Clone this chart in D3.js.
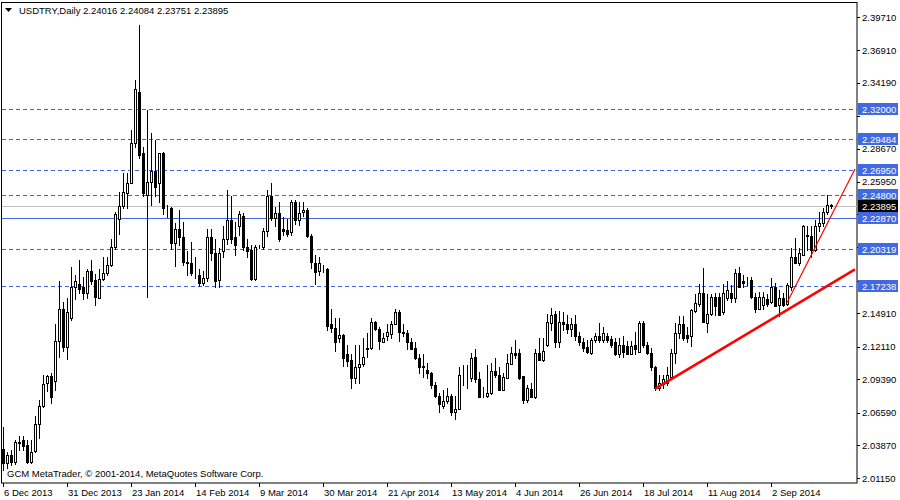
<!DOCTYPE html>
<html>
<head>
<meta charset="utf-8">
<script src="https://cdn.jsdelivr.net/npm/d3@7"></script>
<style>
  body { margin: 0; background: #fff; }
  svg text { font-family: "Liberation Sans", Arial, sans-serif; font-size: 9.5px; }
</style>
</head>
<body>
<div id="chart"></div>
<script>
// daily USDTRY bars, 2 Dec 2013 .. 24 Sep 2014
const opens = [2.036,2.024,2.031,2.025,2.042,2.043,2.039,2.025,2.034,2.057,2.072,2.091,2.097,2.093,2.126,2.153,2.121,2.145,2.171,2.174,
  2.171,2.166,2.185,2.177,2.162,2.178,2.183,2.190,2.205,2.228,2.239,2.250,2.258,2.292,2.334,2.283,2.248,2.259,2.268,2.258,
  2.283,2.237,2.237,2.208,2.220,2.213,2.192,2.191,2.183,2.181,2.175,2.179,2.213,2.200,2.177,2.201,2.211,2.227,2.213,2.222,
  2.231,2.205,2.202,2.178,2.205,2.205,2.218,2.247,2.229,2.233,2.220,2.219,2.217,2.242,2.227,2.234,2.236,2.214,2.191,2.185,
  2.186,2.186,2.140,2.137,2.129,2.131,2.115,2.110,2.095,2.104,2.107,2.119,2.120,2.142,2.136,2.125,2.130,2.132,2.140,2.150,
  2.134,2.133,2.125,2.120,2.112,2.105,2.102,2.099,2.089,2.080,2.072,2.076,2.080,2.067,2.069,2.098,2.096,2.095,2.113,2.094,
  2.081,2.080,2.083,2.101,2.098,2.085,2.095,2.107,2.116,2.116,2.097,2.077,2.086,2.079,2.116,2.110,2.123,2.141,2.149,2.125,
  2.142,2.140,2.136,2.140,2.130,2.125,2.121,2.116,2.127,2.130,2.127,2.130,2.128,2.125,2.115,2.123,2.122,2.115,2.123,2.117,
  2.141,2.123,2.116,2.104,2.087,2.090,2.091,2.096,2.116,2.133,2.140,2.131,2.130,2.151,2.157,2.166,2.141,2.149,2.163,2.163,
  2.150,2.162,2.166,2.162,2.183,2.176,2.176,2.177,2.163,2.153,2.156,2.161,2.159,2.171,2.156,2.162,2.157,2.171,2.196,2.191,
  2.198,2.215,2.214,2.202,2.222,2.225,2.234,2.24016];
const highs = [2.054,2.033,2.035,2.043,2.047,2.047,2.043,2.043,2.063,2.077,2.098,2.098,2.099,2.140,2.176,2.159,2.162,2.188,2.181,2.194,
  2.180,2.186,2.194,2.182,2.186,2.196,2.196,2.211,2.234,2.251,2.267,2.267,2.303,2.344,2.390,2.288,2.319,2.300,2.294,2.283,
  2.284,2.240,2.238,2.225,2.236,2.226,2.201,2.209,2.196,2.186,2.185,2.220,2.220,2.211,2.204,2.222,2.252,2.247,2.226,2.235,
  2.233,2.211,2.206,2.206,2.206,2.221,2.252,2.258,2.238,2.242,2.230,2.228,2.244,2.244,2.242,2.242,2.237,2.216,2.198,2.196,
  2.190,2.187,2.153,2.145,2.145,2.132,2.123,2.115,2.123,2.123,2.129,2.133,2.145,2.143,2.138,2.133,2.140,2.143,2.153,2.152,
  2.140,2.135,2.129,2.125,2.115,2.115,2.108,2.100,2.092,2.083,2.085,2.087,2.082,2.080,2.104,2.106,2.106,2.116,2.119,2.100,
  2.088,2.106,2.108,2.112,2.104,2.099,2.115,2.121,2.127,2.119,2.097,2.089,2.091,2.119,2.129,2.129,2.149,2.154,2.151,2.151,
  2.150,2.148,2.145,2.148,2.134,2.129,2.127,2.129,2.133,2.141,2.138,2.133,2.130,2.129,2.129,2.130,2.126,2.126,2.134,2.143,
  2.143,2.125,2.120,2.105,2.098,2.098,2.104,2.119,2.141,2.147,2.147,2.138,2.153,2.165,2.174,2.187,2.165,2.165,2.166,2.166,
  2.174,2.176,2.173,2.186,2.188,2.181,2.180,2.180,2.166,2.167,2.167,2.165,2.179,2.175,2.169,2.166,2.175,2.204,2.212,2.204,
  2.223,2.222,2.222,2.227,2.234,2.237,2.248,2.24084];
const lows = [2.018,2.020,2.022,2.023,2.035,2.035,2.024,2.024,2.033,2.045,2.071,2.084,2.074,2.085,2.113,2.118,2.111,2.144,2.161,2.166,
  2.161,2.162,2.174,2.156,2.162,2.177,2.181,2.189,2.203,2.216,2.237,2.237,2.258,2.288,2.279,2.247,2.163,2.240,2.247,2.242,
  2.232,2.230,2.203,2.189,2.206,2.190,2.181,2.181,2.179,2.172,2.173,2.176,2.194,2.171,2.171,2.196,2.207,2.208,2.198,2.215,
  2.202,2.196,2.177,2.177,2.204,2.203,2.214,2.227,2.222,2.210,2.215,2.214,2.215,2.224,2.223,2.231,2.213,2.187,2.174,2.181,
  2.184,2.135,2.134,2.118,2.125,2.105,2.105,2.087,2.091,2.091,2.105,2.113,2.119,2.135,2.119,2.125,2.127,2.129,2.140,2.126,
  2.130,2.119,2.119,2.111,2.099,2.096,2.095,2.087,2.079,2.067,2.070,2.074,2.064,2.061,2.069,2.089,2.087,2.093,2.092,2.079,
  2.079,2.079,2.082,2.096,2.085,2.085,2.095,2.107,2.112,2.094,2.074,2.075,2.079,2.078,2.110,2.109,2.122,2.135,2.121,2.121,
  2.135,2.133,2.130,2.127,2.123,2.118,2.116,2.115,2.125,2.125,2.125,2.125,2.121,2.114,2.113,2.113,2.115,2.115,2.115,2.117,
  2.121,2.115,2.102,2.085,2.085,2.087,2.089,2.094,2.108,2.129,2.127,2.125,2.122,2.150,2.155,2.142,2.134,2.148,2.148,2.148,
  2.149,2.160,2.159,2.159,2.171,2.171,2.173,2.162,2.150,2.153,2.153,2.155,2.158,2.155,2.147,2.155,2.156,2.169,2.191,2.190,
  2.198,2.202,2.196,2.201,2.218,2.222,2.232,2.23751];
const closes = [2.024,2.031,2.025,2.042,2.041,2.038,2.025,2.033,2.057,2.072,2.090,2.097,2.079,2.126,2.153,2.121,2.150,2.171,2.176,2.170,
  2.166,2.185,2.176,2.163,2.178,2.183,2.190,2.205,2.232,2.239,2.251,2.258,2.292,2.337,2.282,2.250,2.259,2.268,2.255,2.283,
  2.237,2.237,2.208,2.220,2.213,2.192,2.191,2.183,2.183,2.175,2.179,2.213,2.200,2.176,2.200,2.211,2.227,2.211,2.206,2.232,
  2.205,2.201,2.178,2.205,2.205,2.218,2.247,2.229,2.233,2.211,2.218,2.216,2.242,2.227,2.233,2.236,2.214,2.192,2.184,2.191,
  2.186,2.139,2.137,2.125,2.131,2.112,2.109,2.095,2.104,2.107,2.113,2.120,2.142,2.136,2.126,2.129,2.134,2.140,2.150,2.134,
  2.133,2.125,2.119,2.112,2.104,2.104,2.099,2.089,2.080,2.073,2.076,2.080,2.067,2.069,2.098,2.098,2.096,2.112,2.094,2.079,
  2.081,2.083,2.101,2.098,2.085,2.096,2.108,2.116,2.114,2.095,2.077,2.087,2.079,2.116,2.110,2.118,2.142,2.148,2.125,2.142,
  2.140,2.136,2.140,2.130,2.125,2.120,2.117,2.127,2.130,2.127,2.133,2.127,2.123,2.115,2.123,2.117,2.115,2.122,2.119,2.141,
  2.123,2.116,2.104,2.087,2.091,2.094,2.098,2.116,2.133,2.140,2.129,2.129,2.152,2.158,2.166,2.142,2.149,2.163,2.155,2.148,
  2.166,2.169,2.162,2.183,2.171,2.175,2.176,2.163,2.153,2.163,2.163,2.157,2.171,2.155,2.162,2.156,2.173,2.196,2.191,2.200,
  2.222,2.214,2.202,2.222,2.225,2.234,2.240,2.23895];

const dateTicks = [0,16,32,48,64,80,96,112,128,144,160,176,192];
const dateLabels = ['6 Dec 2013','31 Dec 2013','23 Jan 2014','14 Feb 2014','9 Mar 2014','30 Mar 2014','21 Apr 2014',
  '13 May 2014','4 Jun 2014','26 Jun 2014','18 Jul 2014','11 Aug 2014','2 Sep 2014'];
const priceTicks = [2.39710,2.36910,2.34190,2.31470,2.28670,2.25950,2.23230,2.20510,2.17630,2.14910,2.12110,2.09390,2.06590,2.03870,2.01150];
const dashedLevels = [2.32000,2.29484,2.26950,2.24800,2.20319,2.17238];
const supportLevel = 2.22870;
const lastPrice = 2.23895;
// trend lines: [bar index, price]
const trendMain = [[163,2.086],[213,2.186]];
const trendSteep = [[196,2.158],[213,2.270]];

const width = 900, height = 500;
const plotRight = 857, plotBottom = 483;

const svg = d3.select('#chart').append('svg')
  .attr('width', width).attr('height', height);

const x = d3.scaleLinear().domain([0, 207]).range([3, 831]);
const y = d3.scaleLinear().domain([2.0115, 2.3971]).range([478, 17]);
const px = v => Math.round(x(v)) + 0.5;
const py = v => Math.round(y(v)) + 0.5;

// frame
svg.append('rect')
  .attr('x', 1.5).attr('y', 2.5)
  .attr('width', plotRight - 1.5).attr('height', plotBottom - 2.5)
  .attr('fill', 'none').attr('stroke', '#000');

// horizontal levels
svg.selectAll('.lvl')
  .data(dashedLevels)
  .enter().append('line')
  .attr('x1', 2).attr('x2', plotRight)
  .attr('y1', d => py(d)).attr('y2', d => py(d))
  .attr('stroke', '#3c64dc').attr('stroke-dasharray', '4,3');

svg.append('line')
  .attr('x1', 2).attr('x2', plotRight)
  .attr('y1', py(lastPrice)).attr('y2', py(lastPrice))
  .attr('stroke', '#c0c0c0');

svg.append('line')
  .attr('x1', 2).attr('x2', plotRight)
  .attr('y1', py(supportLevel)).attr('y2', py(supportLevel))
  .attr('stroke', '#4169e1');

// candles
const bars = d3.range(opens.length).map(i => ({ i, o: opens[i], h: highs[i], l: lows[i], c: closes[i] }));

const g = svg.append('g');
g.selectAll('.wick')
  .data(bars)
  .enter().append('line')
  .attr('x1', d => px(d.i)).attr('x2', d => px(d.i))
  .attr('y1', d => Math.round(y(d.h))).attr('y2', d => Math.round(y(d.l)) + 1)
  .attr('stroke', '#000');

g.selectAll('.body')
  .data(bars)
  .enter().append('rect')
  .attr('x', d => px(d.i) - 1)
  .attr('width', 2)
  .attr('y', d => py(Math.max(d.o, d.c)))
  .attr('height', d => Math.max(0, py(Math.min(d.o, d.c)) - py(Math.max(d.o, d.c))))
  .attr('fill', d => d.c >= d.o ? '#fff' : '#000')
  .attr('stroke', '#000');

// trend lines
const trendLine = d3.line().x(d => x(d[0])).y(d => y(d[1]));
svg.append('path').attr('d', trendLine(trendMain))
  .attr('fill', 'none').attr('stroke', '#ff0000').attr('stroke-width', 2.5);
svg.append('path').attr('d', trendLine(trendSteep))
  .attr('fill', 'none').attr('stroke', '#ff0000').attr('stroke-width', 1.2);

// level boxes
const boxes = dashedLevels.concat([supportLevel]).map(v => ({ v, fill: '#4169e1' }));
boxes.push({ v: lastPrice, fill: '#000' });

// price axis: labels hidden under a level box are left out
const freeTicks = priceTicks.filter(t => boxes.every(b => Math.abs(y(t) - y(b.v)) > 9));
const axisG = svg.append('g');
axisG.selectAll('.pt')
  .data(priceTicks)
  .enter().append('line')
  .attr('x1', plotRight).attr('x2', plotRight + 3)
  .attr('y1', d => py(d)).attr('y2', d => py(d))
  .attr('stroke', '#000');
axisG.selectAll('.pl')
  .data(freeTicks)
  .enter().append('text')
  .attr('x', 862).attr('y', d => y(d) + 3.5)
  .text(d => d.toFixed(5));

const bg = svg.append('g');
bg.selectAll('rect')
  .data(boxes)
  .enter().append('rect')
  .attr('x', 858).attr('y', d => Math.round(y(d.v)) - 6)
  .attr('width', 40).attr('height', 12)
  .attr('fill', d => d.fill);
bg.selectAll('text')
  .data(boxes)
  .enter().append('text')
  .attr('x', 862).attr('y', d => Math.round(y(d.v)) + 3.5)
  .attr('fill', '#fff')
  .text(d => d.v.toFixed(5));

// date axis
svg.selectAll('.dt')
  .data(dateTicks)
  .enter().append('line')
  .attr('x1', d => px(d)).attr('x2', d => px(d))
  .attr('y1', plotBottom).attr('y2', plotBottom + 4)
  .attr('stroke', '#000');
svg.selectAll('.dl')
  .data(dateTicks)
  .enter().append('text')
  .attr('x', d => x(d) + 1).attr('y', 496)
  .text((d, k) => dateLabels[k]);

// header and footer
svg.append('path').attr('d', 'M5,8 L12,8 L8.5,12 Z').attr('fill', '#000');
svg.append('text').attr('x', 19).attr('y', 14)
  .text('USDTRY,Daily  2.24016 2.24084 2.23751 2.23895');
svg.append('text').attr('x', 7).attr('y', 477)
  .text('GCM MetaTrader, © 2001-2014, MetaQuotes Software Corp.');
</script>
</body>
</html>
